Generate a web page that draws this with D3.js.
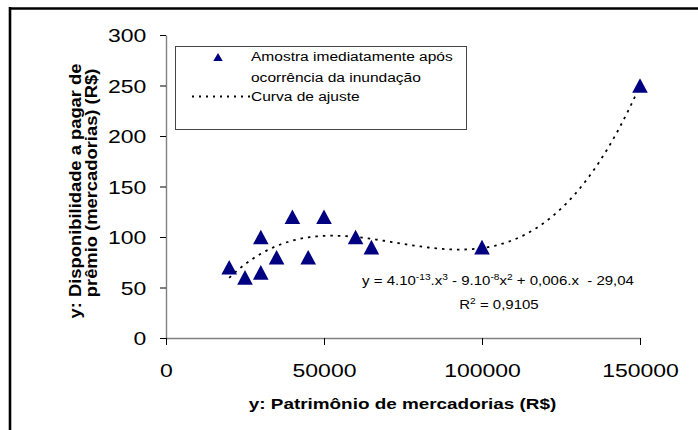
<!DOCTYPE html>
<html>
<head>
<meta charset="utf-8">
<script src="https://cdn.jsdelivr.net/npm/d3@7"></script>
<style>
  body { margin: 0; background: #fff; }
  svg { display: block; }
  text { font-family: "Liberation Sans", Arial, sans-serif; fill: #000; }
</style>
</head>
<body>
<svg id="chart" width="698" height="430"></svg>
<script>
// Survey samples: stock value (R$) vs. willingness to pay the premium (R$)
const patrimonio      = [20000, 25000, 30000, 30000, 35000, 40000, 45000, 50000, 60000, 65000, 100000, 150000];
const disponibilidade = [70,    60,    100,   65,    80,    120,   80,    120,   100,   90,    90,     250];

const xTicks = [0, 50000, 100000, 150000];
const yTicks = [0, 50, 100, 150, 200, 250, 300];

const legendSeries = ["Amostra imediatamente após", "ocorrência da inundação"];
const legendCurve = "Curva de ajuste";
const xTitle = "y: Patrimônio de mercadorias (R$)";
const yTitleLines = ["y: Disponibilidade a pagar de", "prêmio (mercadorias) (R$)"];

// Trendline equation, pieces flagged as superscript
const equationParts = [
  ["y = 4.10", false], ["-13", true], [".x", false], ["3", true],
  [" - 9.10", false], ["-8", true], ["x", false], ["2", true],
  [" + 0,006.x  - 29,04", false]
];
const r2Parts = [["R", false], ["2", true], [" = 0,9105", false]];

const svg = d3.select("#chart");
const W = 698, H = 430;
const plot = { left: 166, right: 640, top: 35, bottom: 338 };
const STRETCH = 1.21;

const x = d3.scaleLinear().domain([0, 150000]).range([plot.left, plot.right]);
const y = d3.scaleLinear().domain([0, 300]).range([plot.bottom, plot.top]);

// Frame (top and left edges)
svg.append("line").attr("x1", 9).attr("x2", W).attr("y1", 8.5).attr("y2", 8.5)
  .attr("stroke", "#000").attr("stroke-width", 2.6);
svg.append("line").attr("x1", 10).attr("x2", 10).attr("y1", 7).attr("y2", H)
  .attr("stroke", "#000").attr("stroke-width", 2.6);

// Least-squares cubic trendline computed from the samples
function cubicFit(xs, ys) {
  const s = 1e5, n = 4;
  const A = Array.from({ length: n }, () => new Array(n + 1).fill(0));
  xs.forEach((xv, k) => {
    const t = xv / s;
    for (let i = 0; i < n; i++) {
      for (let j = 0; j < n; j++) A[i][j] += Math.pow(t, i + j);
      A[i][n] += ys[k] * Math.pow(t, i);
    }
  });
  for (let c = 0; c < n; c++) {
    let p = c;
    for (let r = c + 1; r < n; r++) if (Math.abs(A[r][c]) > Math.abs(A[p][c])) p = r;
    [A[c], A[p]] = [A[p], A[c]];
    for (let r = 0; r < n; r++) {
      if (r === c) continue;
      const f = A[r][c] / A[c][c];
      for (let k = c; k <= n; k++) A[r][k] -= f * A[c][k];
    }
  }
  const coef = A.map((row, i) => row[n] / row[i]);
  return xv => { const t = xv / s; return coef[0] + coef[1] * t + coef[2] * t * t + coef[3] * t * t * t; };
}
const trend = cubicFit(patrimonio, disponibilidade);
const xMin = d3.min(patrimonio), xMax = d3.max(patrimonio);
const trendPts = d3.range(xMin, xMax + 1, 500).map(v => [v, trend(v)]);

// Axes
const yAxis = svg.append("g").attr("transform", `translate(${plot.left},0)`)
  .call(d3.axisLeft(y).tickValues(yTicks).tickSize(6).tickSizeOuter(0).tickFormat(d3.format("d")));
const xAxis = svg.append("g").attr("transform", `translate(0,${plot.bottom})`)
  .call(d3.axisBottom(x).tickValues(xTicks).tickSize(7).tickSizeOuter(0).tickFormat(d3.format("d")));

[yAxis, xAxis].forEach(g => {
  g.select(".domain").attr("stroke", "#808080").attr("stroke-width", 1.4);
  g.selectAll(".tick line").attr("stroke", "#000").attr("stroke-width", 1);
  g.selectAll(".tick text").attr("font-size", 19).attr("font-family", "Liberation Sans, Arial, sans-serif").attr("fill", "#000");
});
yAxis.selectAll(".tick text").attr("x", -16.3).attr("dy", "0.36em").attr("transform", `scale(${STRETCH},1)`);
xAxis.selectAll(".tick text").attr("y", 39).attr("dy", 0).attr("transform", `scale(${STRETCH},1)`);

// Trendline
svg.append("path")
  .datum(trendPts)
  .attr("fill", "none")
  .attr("stroke", "#000")
  .attr("stroke-width", 1.8)
  .attr("stroke-dasharray", "2.5,5")
  .attr("d", d3.line().x(d => x(d[0])).y(d => y(d[1])));

// Triangle markers
const triangle = (w, h) => `M0,${-h / 2}L${w / 2},${h / 2}L${-w / 2},${h / 2}Z`;
svg.append("g").selectAll("path")
  .data(patrimonio.map((v, i) => [v, disponibilidade[i]]))
  .join("path")
  .attr("d", triangle(15.6, 14.6))
  .attr("transform", d => `translate(${x(d[0])},${y(d[1])})`)
  .attr("fill", "#000080");

// Stretched text helper
function label(g, tx, ty, parts, size, anchor, supSize, sx) {
  const t = g.append("text")
    .attr("transform", `translate(${tx},${ty}) scale(${sx},1)`)
    .attr("font-size", size)
    .attr("text-anchor", anchor)
    .attr("xml:space", "preserve")
    .style("white-space", "pre");
  parts.forEach(([s, sup]) => {
    const ts = t.append("tspan").text(s);
    if (sup) ts.attr("font-size", supSize).attr("baseline-shift", "super");
  });
  return t;
}

// Equation and R²
label(svg, 498, 285, equationParts, 12.5, "middle", 8.5, 1.2);
label(svg, 499, 309, r2Parts, 12.5, "middle", 8.5, 1.2);

// Legend
const lg = svg.append("g");
lg.append("rect").attr("x", 175.5).attr("y", 46.5).attr("width", 291).attr("height", 83)
  .attr("fill", "#fff").attr("stroke", "#444").attr("stroke-width", 1);
lg.append("path").attr("d", triangle(9.5, 8)).attr("transform", "translate(218,57)").attr("fill", "#000080");
lg.append("line").attr("x1", 192).attr("x2", 250).attr("y1", 96.5).attr("y2", 96.5)
  .attr("stroke", "#000").attr("stroke-width", 1.8).attr("stroke-dasharray", "2,5");
label(lg, 251, 61, [[legendSeries[0], false]], 13.5, "start", 9, 1.15);
label(lg, 251, 82, [[legendSeries[1], false]], 13.5, "start", 9, 1.15);
label(lg, 251, 101, [[legendCurve, false]], 13.5, "start", 9, 1.15);

// Axis titles
svg.append("text")
  .attr("transform", `translate(402.5,409) scale(1.22,1)`)
  .attr("text-anchor", "middle").attr("font-size", 15.5).attr("font-weight", "bold")
  .text(xTitle);
yTitleLines.forEach((line, i) => {
  svg.append("text")
    .attr("transform", `translate(${[80.5, 97][i]},${[191, 183][i]}) rotate(-90) scale(1.08,1)`)
    .attr("text-anchor", "middle").attr("font-size", 17).attr("font-weight", "bold")
    .text(line);
});
</script>
</body>
</html>
